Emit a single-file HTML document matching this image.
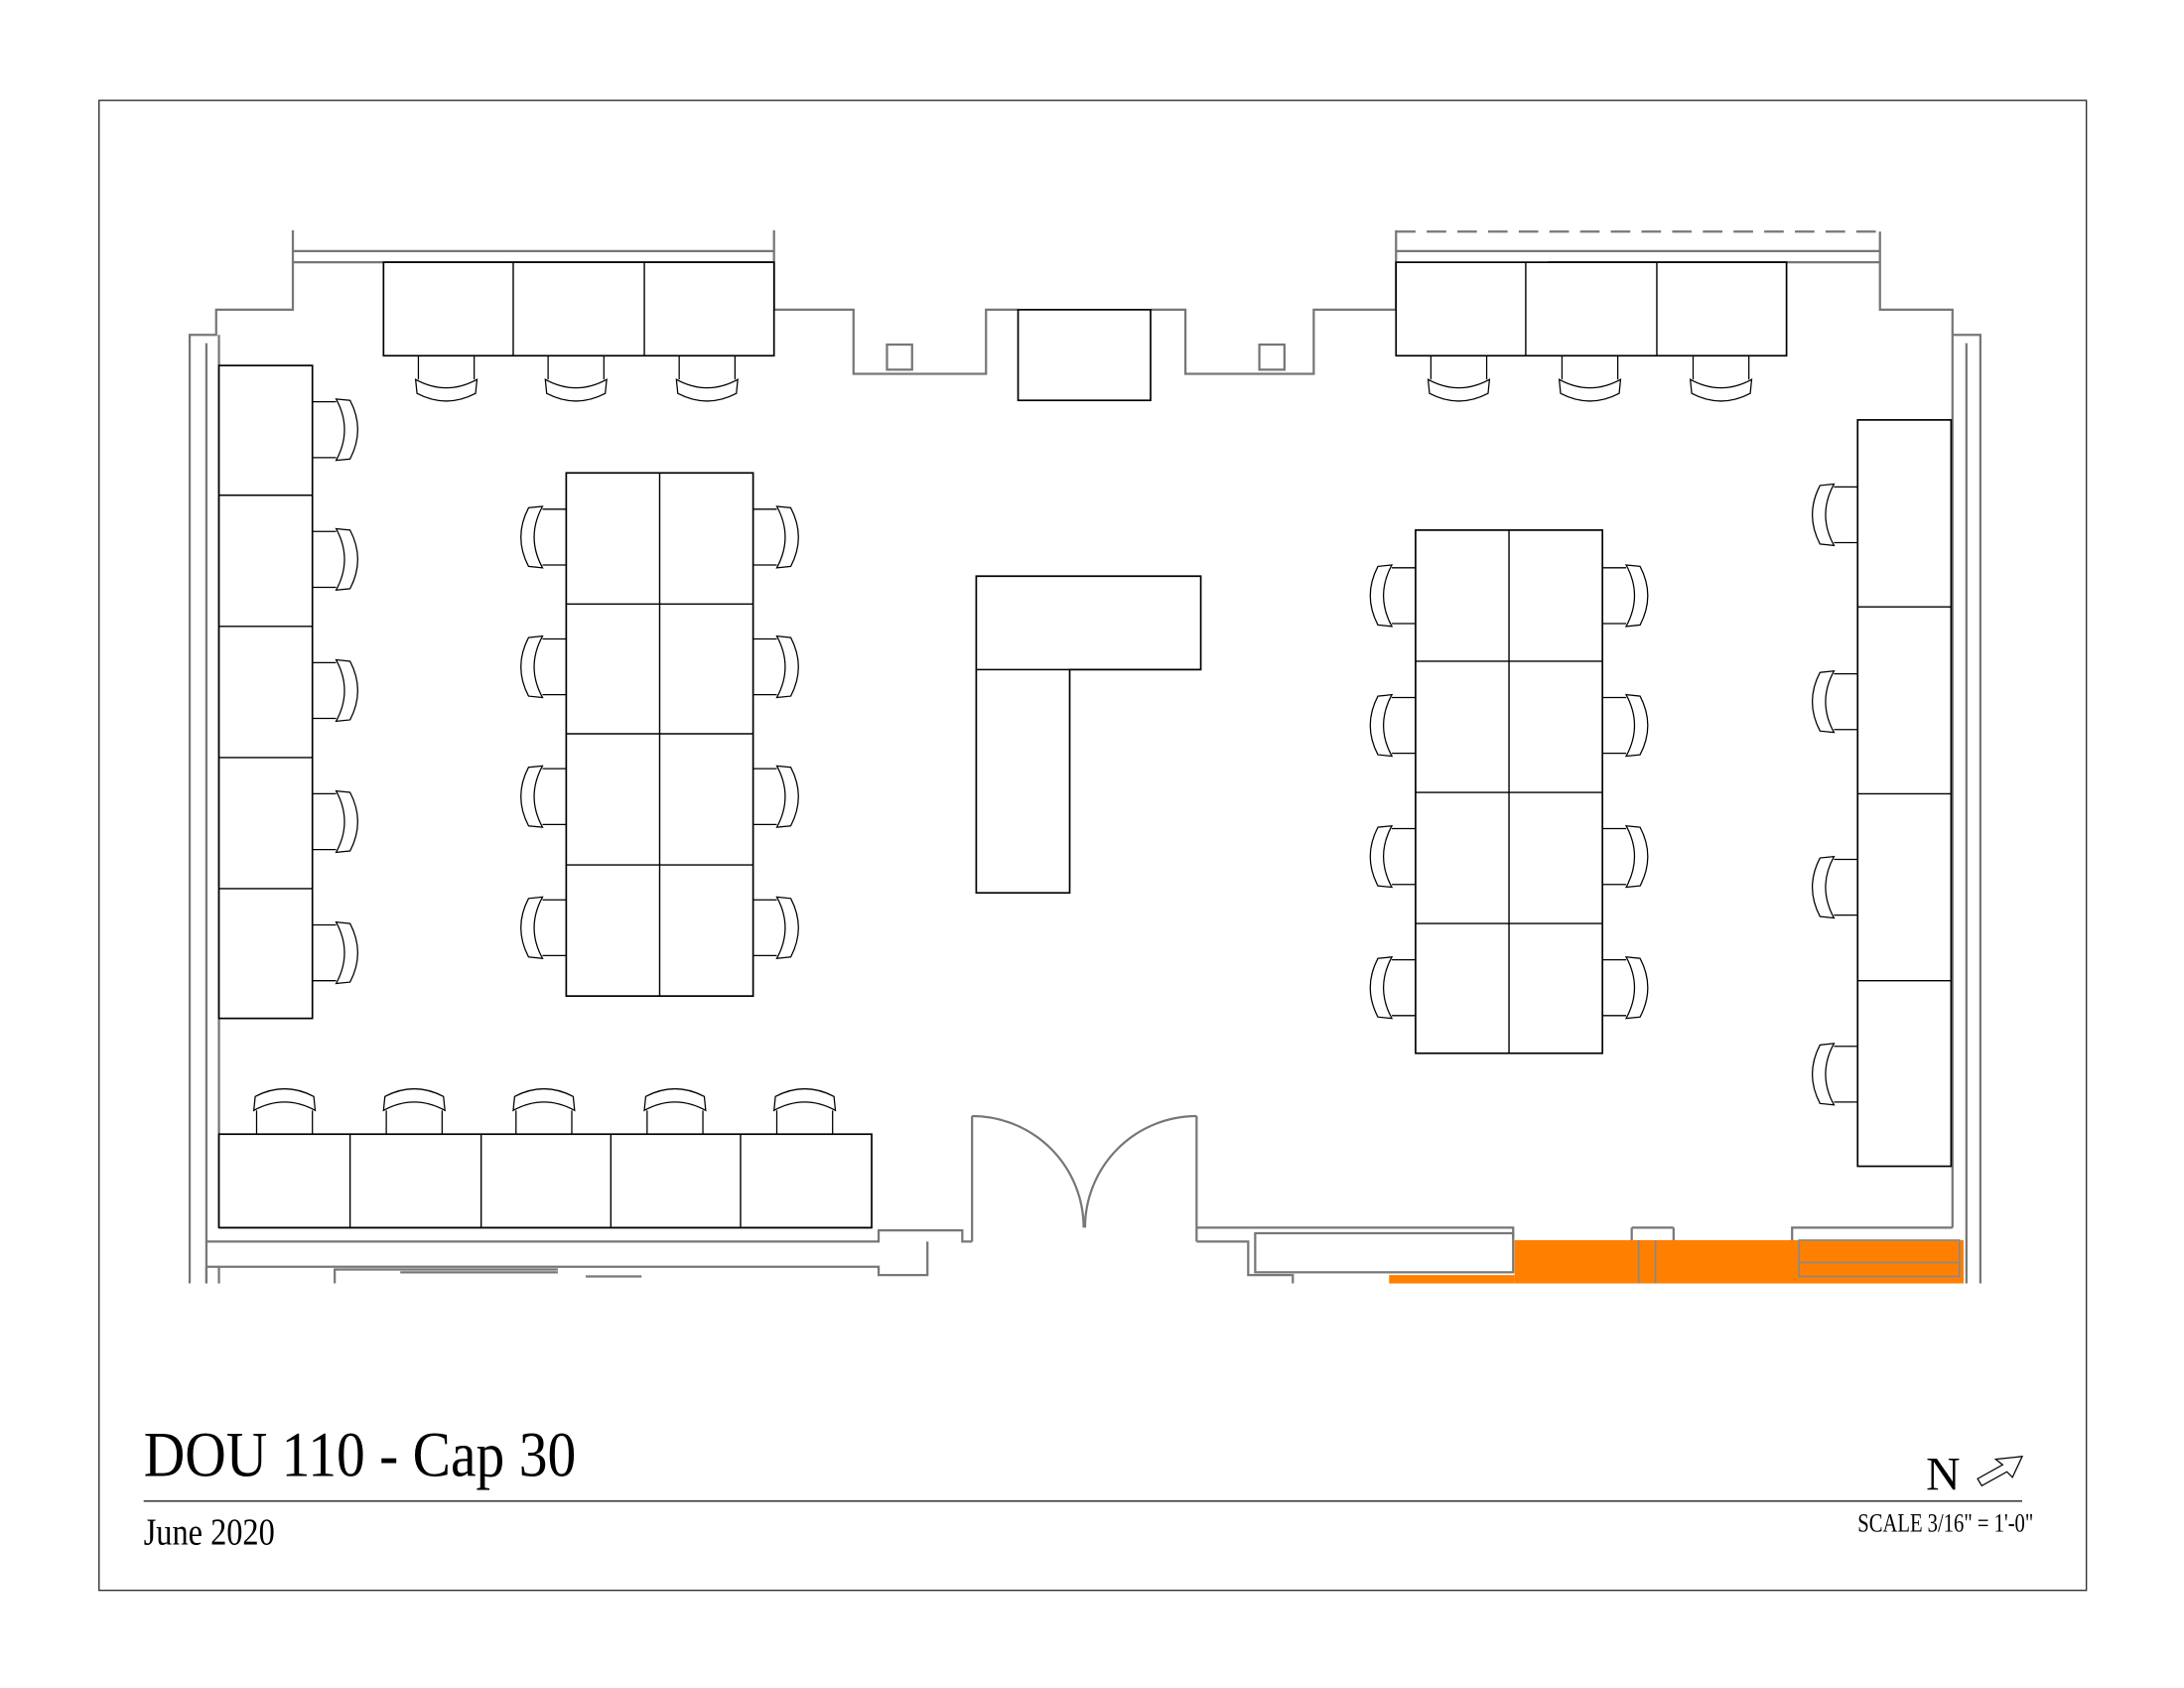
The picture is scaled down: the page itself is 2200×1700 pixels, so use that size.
<!DOCTYPE html>
<html><head><meta charset="utf-8"><style>html,body{margin:0;padding:0;background:#fff}svg{display:block}</style></head>
<body>
<svg width="2200" height="1700" viewBox="0 0 1566 1210" preserveAspectRatio="none" xmlns="http://www.w3.org/2000/svg">
<defs>
<g id="ch" fill="none" stroke="#000" stroke-width="0.9">
<line x1="-20" y1="0" x2="-20" y2="17"/><line x1="20" y1="0" x2="20" y2="17"/>
<path d="M-22,17 Q0,29 22,17 L21,27 Q0,38 -21,27 Z"/>
</g>
</defs>
<rect x="71" y="72" width="1425" height="1068" fill="none" stroke="#333" stroke-width="1"/>
<g fill="none" stroke="#777" stroke-width="1.6">
<polyline points="136,920 136,240 155,240 155,222 210,222 210,165"/>
<line x1="148" y1="246" x2="148" y2="920"/>
<line x1="157" y1="240" x2="157" y2="880"/>
<line x1="210" y1="180" x2="555" y2="180"/><line x1="210" y1="188" x2="555" y2="188"/>
<polyline points="555,165 555,222 612,222 612,268 707,268 707,222 730,222"/>
<polyline points="825,222 850,222 850,268 942,268 942,222 1001,222 1001,165"/>
<line x1="1001" y1="166" x2="1348" y2="166" stroke-dasharray="14,8"/>
<line x1="1001" y1="180" x2="1348" y2="180"/><line x1="1110" y1="188" x2="1348" y2="188"/>
<polyline points="1348,166 1348,222 1400,222 1400,240 1420,240 1420,920"/>
<line x1="1410" y1="246" x2="1410" y2="920"/>
<line x1="1400" y1="240" x2="1400" y2="880"/>
<rect x="636" y="247" width="18" height="18"/><rect x="903" y="247" width="18" height="18"/>
<line x1="157" y1="880" x2="625" y2="880"/>
<polyline points="148,890 630,890 630,882 690,882 690,890 697,890"/>
<polyline points="148,908 630,908 630,914 665,914 665,890"/>
<line x1="148" y1="908" x2="148" y2="920"/><line x1="157" y1="908" x2="157" y2="920"/>
<polyline points="240,920 240,910 400,910"/><line x1="287" y1="912" x2="400" y2="912"/>
<line x1="420" y1="915" x2="460" y2="915"/>
<line x1="697" y1="800" x2="697" y2="890"/><line x1="858" y1="800" x2="858" y2="890"/>
<path d="M697,800 A80,80 0 0 1 777,880"/><path d="M858,800 A80,80 0 0 0 778,880"/>
<polyline points="858,880 1085,880 1085,888"/>
<polyline points="858,890 895,890 895,914 927,914 927,920"/>
<rect x="900" y="884" width="185" height="28"/>
<line x1="1170" y1="880" x2="1170" y2="920"/><line x1="1200" y1="880" x2="1200" y2="920"/>
<line x1="1170" y1="880" x2="1200" y2="880"/>
<polyline points="1285,920 1285,880 1400,880"/>
</g>
<g fill="#FF8000">
<rect x="1086" y="889" width="322" height="31"/>
<rect x="996" y="914" width="90" height="6"/>
</g>
<g fill="none" stroke="#888" stroke-width="1.2">
<line x1="1175" y1="889" x2="1175" y2="920"/><line x1="1187" y1="889" x2="1187" y2="920"/>
<rect x="1290" y="889" width="115" height="26"/><line x1="1290" y1="905" x2="1405" y2="905"/>
</g>
<g fill="#fff" stroke="#000" stroke-width="1.2">
<rect x="730" y="222" width="95" height="65"/>
<rect x="275" y="188" width="280" height="67"/>
<rect x="1001" y="188" width="280" height="67"/>
<rect x="157" y="262" width="67" height="468"/>
<rect x="406" y="339" width="134" height="375"/>
<rect x="1015" y="380" width="134" height="375"/>
<rect x="1332" y="301" width="67" height="535"/>
<rect x="157" y="813" width="468" height="67"/>
<polygon points="700,413 861,413 861,480 767,480 767,640 700,640"/>
</g>
<g stroke="#000" stroke-width="1">
<line x1="368" y1="188" x2="368" y2="255"/><line x1="462" y1="188" x2="462" y2="255"/>
<line x1="1094" y1="188" x2="1094" y2="255"/><line x1="1188" y1="188" x2="1188" y2="255"/>
<line x1="157" y1="355" x2="224" y2="355"/><line x1="157" y1="449" x2="224" y2="449"/><line x1="157" y1="543" x2="224" y2="543"/><line x1="157" y1="637" x2="224" y2="637"/>
<line x1="473" y1="339" x2="473" y2="714"/><line x1="406" y1="433" x2="540" y2="433"/><line x1="406" y1="526" x2="540" y2="526"/><line x1="406" y1="620" x2="540" y2="620"/>
<line x1="1082" y1="380" x2="1082" y2="755"/><line x1="1015" y1="474" x2="1149" y2="474"/><line x1="1015" y1="568" x2="1149" y2="568"/><line x1="1015" y1="662" x2="1149" y2="662"/>
<line x1="1332" y1="435" x2="1399" y2="435"/><line x1="1332" y1="569" x2="1399" y2="569"/><line x1="1332" y1="703" x2="1399" y2="703"/>
<line x1="251" y1="813" x2="251" y2="880"/><line x1="345" y1="813" x2="345" y2="880"/><line x1="438" y1="813" x2="438" y2="880"/><line x1="531" y1="813" x2="531" y2="880"/>
<line x1="700" y1="480" x2="767" y2="480"/>
</g>
<use href="#ch" transform="translate(320,255)"/><use href="#ch" transform="translate(413,255)"/><use href="#ch" transform="translate(507,255)"/>
<use href="#ch" transform="translate(1046,255)"/><use href="#ch" transform="translate(1140,255)"/><use href="#ch" transform="translate(1234,255)"/>
<use href="#ch" transform="translate(204,813) rotate(180)"/><use href="#ch" transform="translate(297,813) rotate(180)"/><use href="#ch" transform="translate(390,813) rotate(180)"/><use href="#ch" transform="translate(484,813) rotate(180)"/><use href="#ch" transform="translate(577,813) rotate(180)"/>
<use href="#ch" transform="translate(224,308) rotate(-90)"/><use href="#ch" transform="translate(224,401) rotate(-90)"/><use href="#ch" transform="translate(224,495) rotate(-90)"/><use href="#ch" transform="translate(224,589) rotate(-90)"/><use href="#ch" transform="translate(224,683) rotate(-90)"/>
<use href="#ch" transform="translate(540,385) rotate(-90)"/><use href="#ch" transform="translate(540,478) rotate(-90)"/><use href="#ch" transform="translate(540,571) rotate(-90)"/><use href="#ch" transform="translate(540,665) rotate(-90)"/>
<use href="#ch" transform="translate(1149,427) rotate(-90)"/><use href="#ch" transform="translate(1149,520) rotate(-90)"/><use href="#ch" transform="translate(1149,614) rotate(-90)"/><use href="#ch" transform="translate(1149,708) rotate(-90)"/>
<use href="#ch" transform="translate(406,385) rotate(90)"/><use href="#ch" transform="translate(406,478) rotate(90)"/><use href="#ch" transform="translate(406,571) rotate(90)"/><use href="#ch" transform="translate(406,665) rotate(90)"/>
<use href="#ch" transform="translate(1015,427) rotate(90)"/><use href="#ch" transform="translate(1015,520) rotate(90)"/><use href="#ch" transform="translate(1015,614) rotate(90)"/><use href="#ch" transform="translate(1015,708) rotate(90)"/>
<use href="#ch" transform="translate(1332,369) rotate(90)"/><use href="#ch" transform="translate(1332,503) rotate(90)"/><use href="#ch" transform="translate(1332,636) rotate(90)"/><use href="#ch" transform="translate(1332,770) rotate(90)"/>
<g font-family="'Liberation Serif', serif" fill="#000">
<text x="103" y="1058" font-size="46" textLength="310" lengthAdjust="spacingAndGlyphs">DOU 110 - Cap 30</text>
<text x="103" y="1107" font-size="27" textLength="94" lengthAdjust="spacingAndGlyphs">June 2020</text>
<text x="1381" y="1068" font-size="34">N</text>
<text x="1332" y="1098" font-size="19" textLength="126" lengthAdjust="spacingAndGlyphs">SCALE 3/16" = 1'-0"</text>
</g>
<line x1="103" y1="1076" x2="1450" y2="1076" stroke="#333" stroke-width="1"/>
<polygon points="1418,1060 1436,1050 1431,1046 1450,1044 1443,1059 1439,1055 1421,1065" fill="none" stroke="#000" stroke-width="0.9"/>
</svg>
</body></html>
